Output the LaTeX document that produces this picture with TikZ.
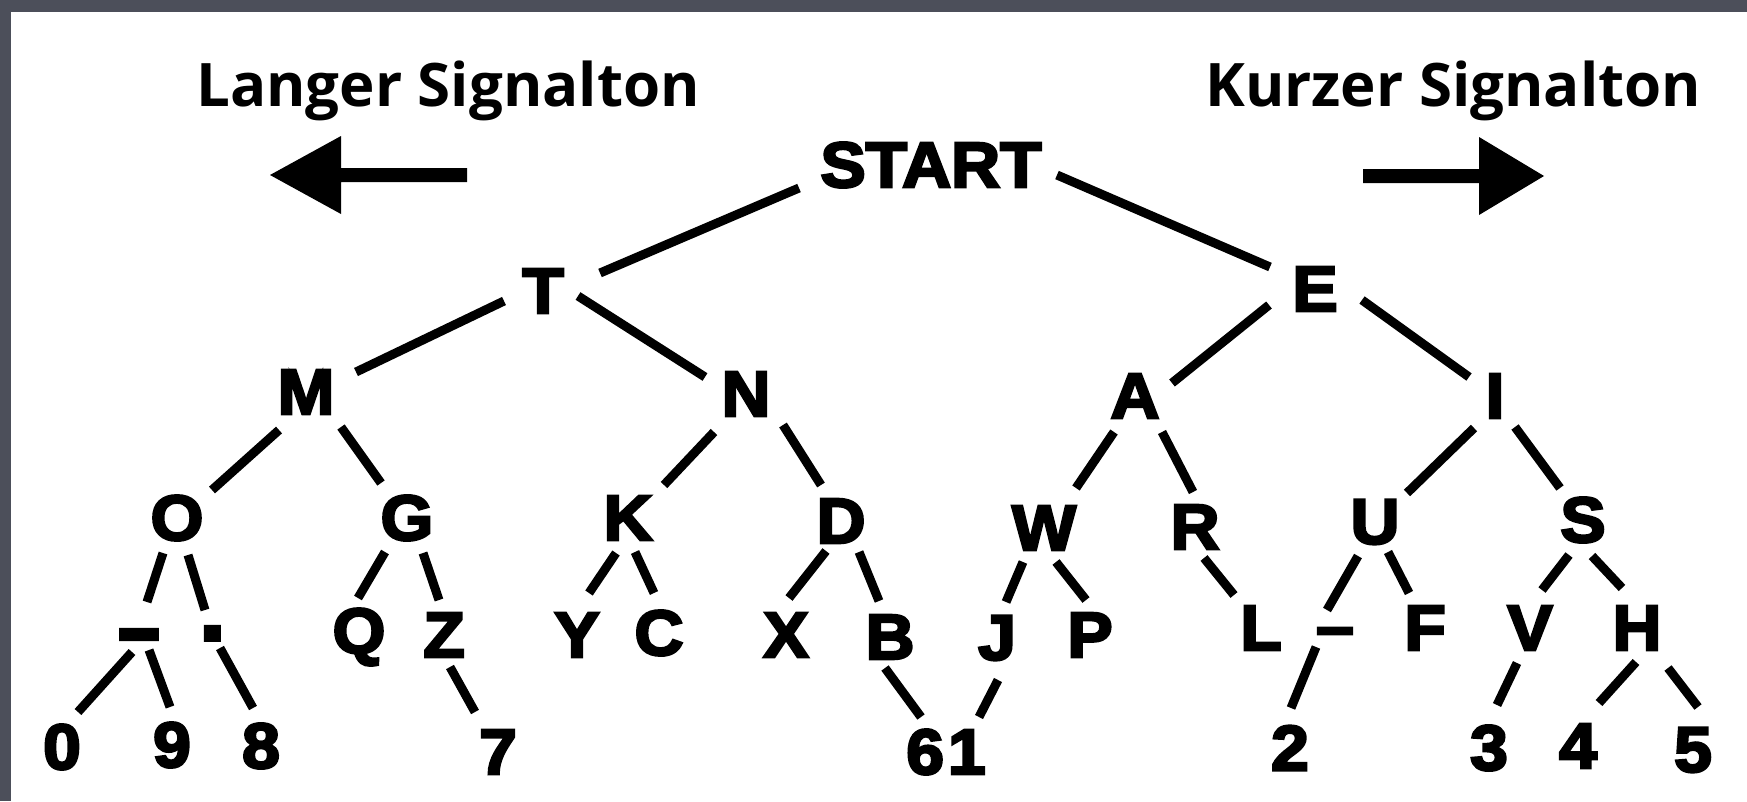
\documentclass[tikz,border=0pt]{standalone}
\usepackage{fontspec}
\newfontfamily\titlefont{Open Sans}
\newfontfamily\treefont[FakeStretch=1.06, BoldFeatures={FakeBold=4}]{Liberation Sans}
\definecolor{framegray}{RGB}{76,79,90}
\tikzset{
  lbl/.style={inner sep=0pt, outer sep=0pt, font=\treefont\bfseries\fontsize{64}{64}\selectfont},
  edge/.style={line width=9pt, line cap=butt},
  heading/.style={inner sep=0pt, anchor=base west, font=\titlefont\bfseries\fontsize{60}{60}\selectfont},
}
% connector between two named nodes, each end given as an offset from the node centre
\newcommand\conn[4]{\draw[edge] ([shift={(#2)}]#1.center) -- ([shift={(#4)}]#3.center);}
\begin{document}
\begin{tikzpicture}[x=1pt,y=-1pt]
\useasboundingbox (0,0) rectangle (1747,801);
% frame and paper
\fill[framegray] (0,0) rectangle (1747,801);
\fill[white] (11,12) rectangle (1747,801);

% headings and direction arrows
\node[heading] (lang) at (196,106) {Langer Signalton};
\node[heading] (kurz) at (1205,106) {Kurzer Signalton};
\fill (270,175) -- (341,136) -- (341,168) -- (467,168) -- (467,182) -- (341,182) -- (341,214) -- cycle;
\fill (1544,176) -- (1479,137) -- (1479,169) -- (1363,169) -- (1363,183) -- (1479,183) -- (1479,215) -- cycle;

% tree labels
\node[lbl] (START) at (931,165) {START};
\node[lbl] (T) at (543,291) {T};
\node[lbl] (E) at (1315,289) {E};
\node[lbl] (M) at (306,392) {M};
\node[lbl] (N) at (746,394) {N};
\node[lbl] (A) at (1135,396) {A};
\node[lbl] (I) at (1495,396) {I};
\node[lbl] (O) at (177,518) {O};
\node[lbl] (G) at (407,518) {G};
\node[lbl] (K) at (628,518) {K};
\node[lbl] (D) at (841,521) {D};
\node[lbl] (W) at (1044,528) {W};
\node[lbl] (R) at (1195,527) {R};
\node[lbl] (U) at (1375,522) {U};
\node[lbl] (S) at (1583,520) {S};
\node[lbl] (dashL) at (139,645) {\scalebox{1.1}[1.5]{–}};
\node[lbl] (dot) at (215,645) {\scalebox{1.4}{·}};
\node[lbl] (Q) at (359,637) {Q};
\node[lbl] (Z) at (444,635) {Z};
\node[lbl] (Y) at (577,635) {Y};
\node[lbl] (C) at (659,633) {C};
\node[lbl] (X) at (786,635) {X};
\node[lbl] (B) at (890,637) {B};
\node[lbl] (J) at (997,638) {J};
\node[lbl] (P) at (1090,635) {P};
\node[lbl] (L) at (1261,628) {L};
\node[lbl] (dashR) at (1335,638) {–};
\node[lbl] (F) at (1425,628) {F};
\node[lbl] (V) at (1530,628) {V};
\node[lbl] (H) at (1637,628) {H};
\node[lbl] (n0) at (62,747) {0};
\node[lbl] (n9) at (172,745) {9};
\node[lbl] (n8) at (261,746) {8};
\node[lbl] (n7) at (498,752) {7};
\node[lbl] (n61) at (946,752) {6\kern4pt1};
\node[lbl] (n2) at (1290,748) {2};
\node[lbl] (n3) at (1489,748) {3};
\node[lbl] (n4) at (1578,746) {4};
\node[lbl] (n5) at (1693,750) {5};

% branches
\conn{START}{-132,23}{T}{57,-18}
\conn{START}{126,10}{E}{-45,-22}
\conn{T}{-39,10}{M}{50,-20}
\conn{T}{35,5}{N}{-41,-17}
\conn{E}{-46,16}{A}{37,-13}
\conn{E}{47,11}{I}{-26,-19}
\conn{M}{-27,38}{O}{35,-28}
\conn{M}{35,35}{G}{-26,-35}
\conn{N}{-32,38}{K}{36,-33}
\conn{N}{37,31}{D}{-20,-36}
\conn{A}{-21,36}{W}{32,-40}
\conn{A}{27,36}{R}{-2,-35}
\conn{I}{-21,32}{U}{32,-29}
\conn{I}{20,31}{S}{-23,-32}
\conn{O}{-14,35}{dashL}{8,-43}
\conn{O}{11,37}{dot}{-10,-35}
\conn{G}{-22,34}{Q}{-1,-39}
\conn{G}{16,35}{Z}{-5,-35}
\conn{K}{-12,35}{Y}{12,-42}
\conn{K}{7,34}{C}{-5,-40}
\conn{D}{-15,30}{X}{3,-37}
\conn{D}{18,31}{B}{-11,-36}
\conn{W}{-21,34}{J}{9,-36}
\conn{W}{12,34}{P}{-4,-35}
\conn{R}{9,31}{L}{-27,-33}
\conn{U}{-17,34}{dashR}{-8,-28}
\conn{U}{13,30}{F}{-16,-35}
\conn{S}{-14,35}{V}{12,-38}
\conn{S}{9,36}{H}{-15,-40}
\conn{dashL}{-7,7}{n0}{16,-35}
\conn{dashL}{10,5}{n9}{-2,-38}
\conn{dot}{5,3}{n8}{-8,-38}
\conn{Z}{6,32}{n7}{-23,-40}
\conn{B}{-5,31}{n61}{-25,-35}
\conn{J}{1,42}{n61}{33,-35}
\conn{dashR}{-19,9}{n2}{1,-40}
\conn{V}{-13,35}{n3}{8,-43}
\conn{H}{-1,34}{n4}{21,-43}
\conn{H}{31,40}{n5}{5,-43}
\end{tikzpicture}
\end{document}
